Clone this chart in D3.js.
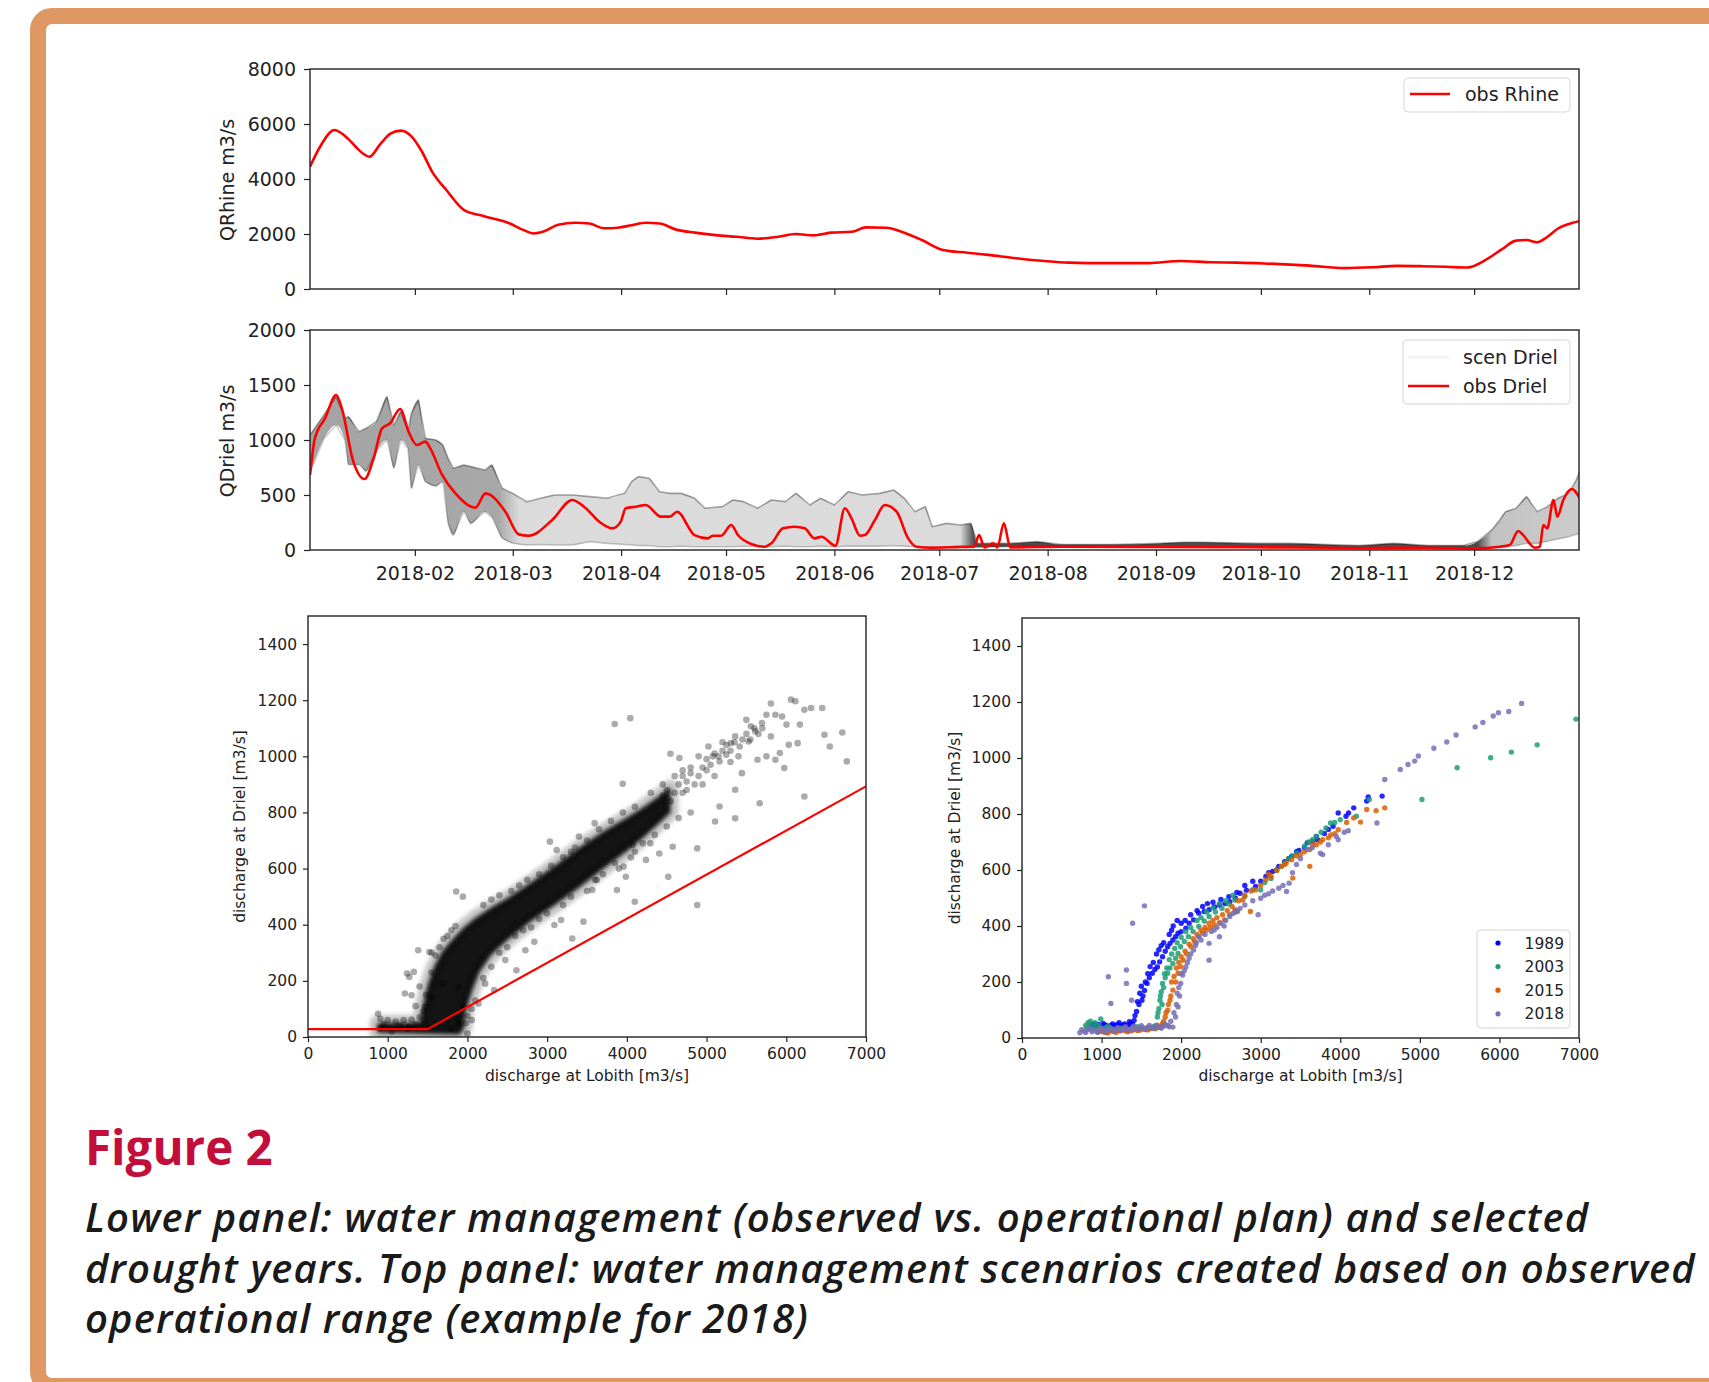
<!DOCTYPE html>
<html>
<head>
<meta charset="utf-8">
<script src="https://cdnjs.cloudflare.com/ajax/libs/d3/7.8.5/d3.min.js"></script>
<style>
  body { margin: 0; background: #fff; }
  svg text { font-family: "DejaVu Sans", sans-serif; fill: #222; }
  svg text.caption { font-family: "Open Sans", sans-serif; }
</style>
</head>
<body>
<div id="chart"></div>
<script>
// ---- data ----
// day numbers count from 2 Jan 2018 (first plotted day); discharge in m3/s

// obs Rhine (top panel)
var rhineDay = [0,3,7,11,14,17,20,23,26,29,32,35,39,44,50,57,61,64,67,71,76,80,84,88,92,96,100,105,110,116,122,128,134,139,144,149,155,159,165,169,175,181,188,194,202,210,217,228,240,249,258,265,273,286,296,304,311,318,325,331,337,341,345,348,351,354,357,361,364];
var rhineQ = [4450,5200,5780,5450,5050,4810,5250,5650,5760,5550,5000,4250,3600,2880,2640,2390,2150,2020,2100,2340,2410,2380,2210,2230,2320,2410,2380,2150,2050,1960,1900,1830,1900,2000,1950,2050,2080,2240,2230,2090,1780,1420,1320,1240,1120,1020,960,940,940,1020,970,960,930,850,760,790,840,830,810,780,1110,1450,1760,1780,1700,1900,2200,2400,2490];

// obs Driel (second panel)
var drielDay = [0,1.4,4.3,7.5,9.1,12.4,15.6,18.2,20.6,22.9,25.8,28.2,30.6,33,34.4,37.8,41.6,47.3,50.2,55.9,59.7,62.6,69.3,75,78.9,82.7,86.5,88.9,90.3,93.2,96,100.4,103,105,110,113.8,115.2,117.6,120.5,122.4,126.2,130,132,135.3,138.6,141.5,144.3,146.3,150.3,153,154.9,157.3,158.7,161.6,164.4,167.8,171.1,173.5,177.8,186,190,191.4,192.9,195.5,196.6,198.5,200.3,215,240,270,300,320,333.6,340.3,343.2,345.6,347,350.4,351.8,352.8,353.9,355.7,356.8,358.5,360.9,363.7];
var drielQ = [682,1015,1197,1409,1288,803,645,833,1106,1152,1282,1076,955,985,924,682,515,385,515,348,142,130,273,455,379,258,197,258,379,394,409,303,303,348,136,106,130,130,227,136,55,30,61,197,212,197,106,121,39,379,288,130,136,273,409,348,106,30,21,28,30,136,24,61,24,242,24,30,28,25,18,20,15,30,45,173,136,21,30,227,197,455,303,455,555,439];

// scenario ensemble range at Driel (upper / lower envelope)
var scenDay = [0,4,7.5,10,11,14,16,19,22,24,26,28,29,31,33,36,38,39.5,41,44,46,50,52,55,58,62,66,70,75,80,85,90,92,94,97,100,103,106,110,113,118,121,124,128,132,136,139,143,146,150,154,158,163,167,170,173,176,178,182,186,189,191,200,208,215,230,243,250,255,270,280,300,310,320,330,334,338,340,342,345,348,351,354,357,360,362,364];
var scenHigh = [1045,1227,1394,1197,1212,1076,1106,1167,1394,1136,1258,1076,1242,1364,1015,1000,955,833,742,773,758,727,773,561,515,439,470,500,500,485,470,515,621,667,652,530,515,515,470,379,394,455,440,379,455,440,515,409,470,409,530,500,515,545,470,348,394,212,242,227,242,60,60,76,50,50,60,70,70,60,60,40,60,40,40,76,180,258,348,379,485,348,394,470,515,621,773];
var scenLow = [700,1015,1136,1000,776,776,715,900,1000,745,1000,924,561,776,621,580,621,239,136,348,239,348,300,106,61,45,50,45,45,76,60,50,45,40,40,30,30,35,30,30,30,30,35,30,30,35,30,30,35,30,35,35,35,40,35,30,30,28,30,30,30,25,30,35,30,30,30,30,30,25,25,20,20,20,20,20,25,25,30,40,60,60,80,100,120,140,150];

var monthTicks = ["2018-02-01","2018-03-01","2018-04-01","2018-05-01","2018-06-01","2018-07-01","2018-08-01","2018-09-01","2018-10-01","2018-11-01","2018-12-01"];
var rhineTicks = [0,2000,4000,6000,8000];
var drielTicks = [0,500,1000,1500,2000];

// lower left: Lobith vs Driel, dense cloud outline + sparse points
var cloudUpper = [[870,50],[1400,52],[1440,110],[1500,185],[1580,250],[1680,305],[1800,345],[1950,390],[2100,425],[2300,462],[2500,495],[2800,552],[3100,612],[3400,675],[3700,732],[4000,782],[4200,818],[4400,858],[4550,890]];
var cloudLower = [[870,15],[1900,8],[1960,30],[1980,90],[2060,165],[2150,230],[2300,292],[2500,345],[2800,412],[3100,470],[3400,532],[3700,598],[4000,662],[4200,708],[4400,760],[4550,800]];
var sparsePts = [[3847,1115],[4043,1136],[3948,902],[4547,1009],[4659,994],[5023,1035],[5079,1000],[5163,982],[5247,1006],[5303,1047],[5359,1071],[5415,1035],[5499,1130],[5555,1107],[5611,1089],[5695,1119],[5751,1148],[5807,1188],[5863,1148],[5947,1142],[6003,1113],[6059,1202],[6115,1196],[6171,1113],[6227,1166],[6311,1172],[6451,1172],[6479,1077],[6546,1035],[6703,1085],[6759,982],[6143,1047],[6031,1041],[5919,1012],[5863,988],[5751,1000],[5639,988],[5975,958],[5807,1071],[5527,1053],[5443,940],[5359,881],[5163,821],[5107,768],[5359,779],[5667,833],[6227,857],[4883,672],[4883,470],[4519,571],[4575,678],[4407,654],[4239,631],[4295,690],[4071,684],[3959,607],[3987,571],[3875,524],[4099,482],[3595,762],[3399,714],[3035,696],[3119,666],[3623,559],[3567,524],[3455,411],[3315,351],[3175,417],[3091,399],[2839,339],[2727,309],[2615,238],[2475,274],[2335,167],[2223,190],[2139,119],[2055,60],[1859,518],[1943,500],[1887,178],[1691,190],[1551,143],[1467,107],[1383,309],[1523,303],[1243,226],[1327,232],[1271,214],[1215,155],[1299,149],[879,83],[907,65],[1271,36],[2000,12],[1887,48],[4700,930],[4800,960],[4900,1000],[5000,950],[5200,1050],[4750,880],[4950,900],[5100,930],[5300,980],
  [2200,470],[2400,505],[2650,540],[2900,580],[3200,640],[3300,660],[3500,700],[3650,740],[3800,770],[3950,800],[4100,820],[4300,870],[4450,900],[4600,930],[4700,950],[2300,490],[2550,520],[2750,560],[3050,610],[3350,675],
  [2400,300],[2600,360],[2700,380],[2900,420],[3000,440],[3200,470],[3300,500],[3500,520],[3700,580],[3850,620],[4050,640],[4200,690],[4350,720],[4500,750],[4650,780],[4800,800],[2200,210],[2300,250],[2100,130],[2050,100],[2500,320],[2800,390],[3600,560],[3900,600],[4100,660],
  [4450,860],[4500,880],[4550,840],[4600,870],[4650,900],[4700,870],[4750,910],[4800,940],[4850,900],[4900,930],[4950,960],[5000,990],[5050,970],[5100,1010],[5150,1000],[5200,1020],[5250,1040],[5300,1020],[5350,1050],[5400,1000],[5450,1060],[5500,1080],[5550,1060],[5600,1100],[5650,1080],[5700,1100],
  [900,30],[950,45],[1000,60],[1050,20],[1100,55],[1150,40],[1200,60],[1250,30],[1300,62],[1350,45],[1400,70],[1450,90],[1480,150],[1400,180],[1350,110],[1550,230],[1600,290],[1650,320],[1700,350],[1750,360],[1550,300],[1800,380],[1850,395],[1750,60],[1800,30],[1850,70],[1980,50],[2000,75],[1950,110]];
var opPlanX = [0,1500,7000];
var opPlanY = [28,28,893];

// lower right: selected drought years
var years = ["1989","2003","2015","2018"];
var yearColors = ["#0000ff","#1b9e77","#d95f02","#7570b3"];
var pts1989 = [[880,45],[920,38],[960,48],[1000,42],[1040,47],[1080,40],[1120,46],[1160,44],[1200,48],[1250,42],[1290,50],[1330,45],[1370,52],[1409,63],[1440,95],[1470,120],[1507,135],[1540,170],[1572,195],[1600,215],[1637,231],[1670,245],[1701,254],[1730,272],[1766,290],[1800,310],[1831,326],[1860,338],[1896,350],[1930,362],[1961,374],[2000,380],[2059,392],[2100,410],[2156,422],[2221,446],[2290,452],[2351,458],[2420,468],[2481,475],[2550,480],[2611,487],[2680,500],[2740,517],[2820,528],[2935,541],[3000,560],[3065,577],[3150,595],[3227,613],[3300,630],[3390,649],[3480,670],[3585,697],[3650,702],[3714,708],[3800,730],[3909,756],[3974,804],[4072,792],[4104,804],[4169,822],[4332,846],[4351,861],[4526,864],
  [850,40],[900,50],[940,44],[980,36],[1020,52],[1060,45],[1100,38],[1140,50],[1180,42],[1220,55],[1270,47],[1310,40],[1350,58],[1390,48],[1420,80],[1450,130],[1480,160],[1500,185],[1520,150],[1550,200],[1580,230],[1610,255],[1650,270],[1690,300],[1720,315],[1750,330],[1780,340],[1850,370],[1880,385],[1900,400],[1950,420],[2000,410],[2050,420],[2120,440],[2200,455],[2270,470],[2330,480],[2400,485],[2500,495],[2600,505],[2700,520],[2800,545],[2900,560],[3100,590],[3200,600],[3350,640],[3450,665],[3550,680],[3700,720],[3850,745]];
var pts2003 = [[800,45],[830,55],[860,60],[900,40],[950,35],[990,68],[1050,38],[1120,35],[1200,32],[1300,33],[1400,34],[1500,36],[1600,38],[1680,45],[1701,75],[1720,105],[1734,135],[1750,165],[1766,195],[1800,215],[1831,231],[1860,250],[1896,266],[1930,285],[1961,302],[1994,326],[2040,345],[2091,362],[2150,380],[2221,398],[2290,418],[2351,434],[2430,450],[2513,463],[2600,478],[2676,493],[2800,505],[3000,529],[3130,570],[3260,613],[3350,640],[3455,661],[3550,685],[3650,708],[3760,735],[3877,768],[4000,780],[4201,792],[4364,852],[5026,852],[5468,965],[5890,1001],[6150,1021],[6474,1047],[6962,1139],
  [820,35],[850,50],[880,30],[920,55],[970,45],[1020,30],[1080,42],[1150,30],[1250,35],[1350,30],[1450,40],[1550,35],[1650,40],[1710,90],[1740,150],[1760,120],[1780,180],[1790,230],[1820,250],[1850,280],[1880,300],[1920,320],[1950,340],[2000,360],[2060,380],[2120,395],[2200,420],[2250,430],[2320,450],[2400,465],[2480,480],[2560,490],[2650,510],[2900,530],[3050,555],[3200,600],[3300,625],[3400,650],[3600,700],[3700,720],[3820,750],[3930,770]];
var pts2015 = [[950,22],[1000,25],[1050,20],[1100,28],[1150,24],[1200,27],[1250,30],[1300,25],[1350,28],[1400,30],[1450,27],[1500,32],[1550,30],[1600,33],[1650,35],[1700,38],[1740,42],[1766,51],[1800,75],[1831,99],[1860,135],[1896,171],[1930,200],[1961,231],[1994,255],[2026,278],[2070,300],[2124,326],[2170,345],[2221,362],[2270,375],[2318,386],[2370,395],[2416,404],[2480,412],[2546,422],[2610,440],[2676,458],[2708,452],[2773,493],[2870,452],[2935,529],[3000,545],[3065,565],[3130,577],[3200,598],[3260,613],[3320,625],[3390,637],[3403,571],[3500,655],[3617,673],[3617,613],[3700,690],[3779,708],[3880,725],[3974,744],[4080,770],[4169,786],[4254,771],[4332,816],[4450,812],[4559,822],
  [980,30],[1020,22],[1080,18],[1130,25],[1180,20],[1230,25],[1280,32],[1330,22],[1380,26],[1430,33],[1480,28],[1530,34],[1580,29],[1630,36],[1680,33],[1720,40],[1780,60],[1810,90],[1840,120],[1870,150],[1880,200],[1910,220],[1940,250],[1970,270],[2000,290],[2050,310],[2100,335],[2150,355],[2200,370],[2250,385],[2300,395],[2350,410],[2400,420],[2450,430],[2520,440],[2580,455],[2640,470],[2720,490],[2800,510],[2880,525],[3100,585],[3300,620],[3450,650],[3550,665],[3650,690],[3750,700],[3850,715],[3930,730]];
var pts2018 = [[727,19],[780,25],[830,30],[880,22],[930,28],[980,24],[1030,30],[1080,26],[1130,32],[1180,28],[1230,30],[1280,34],[1330,30],[1380,35],[1430,32],[1480,36],[1530,33],[1580,38],[1630,35],[1680,40],[1730,38],[1780,42],[1830,45],[1117,123],[1085,219],[1312,195],[1312,243],[1390,410],[1539,472],[1377,135],[1896,39],[1930,75],[1961,111],[1980,150],[1994,195],[2020,225],[2059,254],[2100,285],[2156,314],[2190,340],[2221,362],[2351,338],[2351,278],[2416,386],[2481,362],[2540,400],[2611,434],[2680,450],[2740,463],[2968,440],[3000,499],[3100,515],[3227,535],[3325,523],[3357,553],[3450,620],[3585,673],[3779,655],[3974,708],[4100,740],[4461,768],[4559,923],[4754,959],[4851,977],[4935,989],[4981,1007],[5176,1035],[5338,1057],[5455,1082],[5695,1111],[5792,1127],[5922,1150],[5987,1162],[6117,1166],[6279,1195],
  [750,30],[800,20],[850,35],[900,28],[950,20],[1000,34],[1050,22],[1100,36],[1150,25],[1200,38],[1250,27],[1300,40],[1350,28],[1400,42],[1450,30],[1500,44],[1550,32],[1600,45],[1650,34],[1700,46],[1750,35],[1800,48],[1850,40],[1870,60],[1910,90],[1940,120],[1950,160],[1970,180],[2000,230],[2040,240],[2080,270],[2120,300],[2180,330],[2250,350],[2300,370],[2380,380],[2450,395],[2500,410],[2560,420],[2650,445],[2700,455],[2800,475],[2900,490],[3050,510],[3150,525],[3280,545],[3400,590],[3500,640],[3650,680],[3750,660],[3850,690],[3950,720],[4050,735]];
var scatterXTicks = [0,1000,2000,3000,4000,5000,6000,7000];
var scatterYTicks = [0,200,400,600,800,1000,1200,1400];

var captionTitle = "Figure 2";
var captionLines = [
  "Lower panel: water management (observed vs. operational plan) and selected",
  "drought years. Top panel: water management scenarios created based on observed",
  "operational range (example for 2018)"
];

// ---- drawing ----
var W = 1709, H = 1382;
var svg = d3.select("#chart").append("svg")
  .attr("width", W).attr("height", H);

var defs = svg.append("defs");

// orange frame
svg.append("rect")
  .attr("x", 38).attr("y", 16)
  .attr("width", 1800).attr("height", 1370)
  .attr("rx", 14)
  .attr("fill", "none")
  .attr("stroke", "#df9764")
  .attr("stroke-width", 16);

var t0 = Date.UTC(2018, 0, 2);
function dayDate(d) { return new Date(t0 + d * 864e5); }

var x = d3.scaleUtc()
  .domain([dayDate(0), dayDate(363)])
  .range([310, 1579]);
var monthDates = monthTicks.map(function(s) { return d3.utcParse("%Y-%m-%d")(s); });

function styleAxis(g, size) {
  g.select(".domain").remove();
  g.selectAll(".tick line").attr("stroke", "#222").attr("stroke-width", 1.2);
  g.selectAll(".tick text").attr("fill", "#222").style("font-size", size + "px");
}

function frame(x0, y0, w, h) {
  svg.append("rect")
    .attr("x", x0).attr("y", y0).attr("width", w).attr("height", h)
    .attr("fill", "none").attr("stroke", "#222").attr("stroke-width", 1.4);
}

function clip(id, x0, y0, w, h) {
  defs.append("clipPath").attr("id", id)
    .append("rect").attr("x", x0).attr("y", y0).attr("width", w).attr("height", h);
}

// --- panel 1: obs Rhine ---
var y1 = d3.scaleLinear().domain([0, 8000]).range([289, 69]);
clip("c1", 310, 69, 1269, 220);

svg.append("g").attr("clip-path", "url(#c1)")
  .append("path")
  .datum(rhineDay)
  .attr("fill", "none")
  .attr("stroke", "#ff0000")
  .attr("stroke-width", 2.6)
  .attr("d", d3.line()
    .x(function(d) { return x(dayDate(d)); })
    .y(function(d, i) { return y1(rhineQ[i]); })
    .curve(d3.curveMonotoneX));

svg.append("g").attr("transform", "translate(0,289)")
  .call(d3.axisBottom(x).tickValues(monthDates).tickSize(6).tickFormat(""))
  .call(styleAxis, 19);
svg.append("g").attr("transform", "translate(310,0)")
  .call(d3.axisLeft(y1).tickValues(rhineTicks).tickSize(6).tickPadding(8).tickFormat(d3.format("d")))
  .call(styleAxis, 19);
frame(310, 69, 1269, 220);

svg.append("text")
  .attr("transform", "translate(234,180) rotate(-90)")
  .attr("text-anchor", "middle")
  .style("font-size", "19px")
  .text("QRhine m3/s");

// legend
var lg1 = svg.append("g");
lg1.append("rect").attr("x", 1404).attr("y", 78).attr("width", 166).attr("height", 34)
  .attr("rx", 4).attr("fill", "#fff").attr("stroke", "#d6d6d6");
lg1.append("line").attr("x1", 1410).attr("x2", 1450).attr("y1", 94).attr("y2", 94)
  .attr("stroke", "#ff0000").attr("stroke-width", 2.6);
lg1.append("text").attr("x", 1465).attr("y", 101).style("font-size", "19px").text("obs Rhine");

// --- panel 2: Driel scenarios + obs ---
var y2 = d3.scaleLinear().domain([0, 2000]).range([550, 330]);
clip("c2", 310, 330, 1269, 220);

// shading stronger where the ensemble is narrow
var grad = defs.append("linearGradient").attr("id", "scenGrad")
  .attr("gradientUnits", "userSpaceOnUse")
  .attr("x1", 310).attr("x2", 1579).attr("y1", 0).attr("y2", 0);
[[0, 0.36], [54, 0.34], [60, 0.14], [186, 0.14], [190, 0.7], [334, 0.7], [338, 0.24], [364, 0.2]]
  .forEach(function(s) {
    grad.append("stop")
      .attr("offset", (x(dayDate(s[0])) - 310) / 1269)
      .attr("stop-color", "#000")
      .attr("stop-opacity", s[1]);
  });

var g2 = svg.append("g").attr("clip-path", "url(#c2)");
g2.append("path")
  .datum(scenDay)
  .attr("fill", "url(#scenGrad)")
  .attr("d", d3.area()
    .x(function(d) { return x(dayDate(d)); })
    .y0(function(d, i) { return y2(scenLow[i]); })
    .y1(function(d, i) { return y2(scenHigh[i]); })
    .curve(d3.curveMonotoneX));

[scenHigh, scenLow].forEach(function(arr, k) {
  g2.append("path")
    .datum(scenDay)
    .attr("fill", "none")
    .attr("stroke", "#000")
    .attr("stroke-opacity", k == 0 ? 0.35 : 0.2)
    .attr("stroke-width", 1.6)
    .attr("stroke-linejoin", "round")
    .attr("d", d3.line()
      .x(function(d) { return x(dayDate(d)); })
      .y(function(d, i) { return y2(arr[i]); }));
});

g2.append("path")
  .datum(drielDay)
  .attr("fill", "none")
  .attr("stroke", "#ff0000")
  .attr("stroke-width", 2.6)
  .attr("stroke-linejoin", "round")
  .attr("d", d3.line()
    .x(function(d) { return x(dayDate(d)); })
    .y(function(d, i) { return y2(drielQ[i]); })
    .curve(d3.curveMonotoneX));

svg.append("g").attr("transform", "translate(0,550)")
  .call(d3.axisBottom(x).tickValues(monthDates).tickSize(6).tickPadding(11).tickFormat(d3.utcFormat("%Y-%m")))
  .call(styleAxis, 19);
svg.append("g").attr("transform", "translate(310,0)")
  .call(d3.axisLeft(y2).tickValues(drielTicks).tickSize(6).tickPadding(8).tickFormat(d3.format("d")))
  .call(styleAxis, 19);
frame(310, 330, 1269, 220);

svg.append("text")
  .attr("transform", "translate(234,441) rotate(-90)")
  .attr("text-anchor", "middle")
  .style("font-size", "19px")
  .text("QDriel m3/s");

var lg2 = svg.append("g");
lg2.append("rect").attr("x", 1403).attr("y", 340).attr("width", 167).attr("height", 64)
  .attr("rx", 4).attr("fill", "#fff").attr("stroke", "#d6d6d6");
lg2.append("line").attr("x1", 1408).attr("x2", 1449).attr("y1", 357).attr("y2", 357)
  .attr("stroke", "#000").attr("stroke-opacity", 0.06).attr("stroke-width", 2.6);
lg2.append("text").attr("x", 1463).attr("y", 364).style("font-size", "19px").text("scen Driel");
lg2.append("line").attr("x1", 1408).attr("x2", 1449).attr("y1", 386).attr("y2", 386)
  .attr("stroke", "#ff0000").attr("stroke-width", 2.6);
lg2.append("text").attr("x", 1463).attr("y", 393).style("font-size", "19px").text("obs Driel");

// --- scatter helpers ---
function scatterAxes(xs, ys, left, top, w, h, ylabX) {
  svg.append("g").attr("transform", "translate(0," + (top + h) + ")")
    .call(d3.axisBottom(xs).tickValues(scatterXTicks).tickSize(5).tickPadding(6).tickFormat(d3.format("d")))
    .call(styleAxis, 15.5);
  svg.append("g").attr("transform", "translate(" + left + ",0)")
    .call(d3.axisLeft(ys).tickValues(scatterYTicks).tickSize(5).tickPadding(6).tickFormat(d3.format("d")))
    .call(styleAxis, 15.5);
  frame(left, top, w, h);
  svg.append("text")
    .attr("x", left + w / 2).attr("y", 1081)
    .attr("text-anchor", "middle")
    .style("font-size", "15.5px")
    .text("discharge at Lobith [m3/s]");
  svg.append("text")
    .attr("transform", "translate(" + ylabX + "," + (top + h / 2) + ") rotate(-90)")
    .attr("text-anchor", "middle")
    .style("font-size", "15.5px")
    .text("discharge at Driel [m3/s]");
}

// --- panel 3: all data vs operational plan ---
var xs3 = d3.scaleLinear().domain([0, 7000]).range([308, 866]);
var ys3 = d3.scaleLinear().domain([0, 1500]).range([1037, 616]);
clip("c3", 308, 616, 558, 421);

defs.append("filter").attr("id", "soft")
  .attr("x", "-10%").attr("y", "-10%").attr("width", "120%").attr("height", "120%")
  .append("feGaussianBlur").attr("stdDeviation", 2);

var g3 = svg.append("g").attr("clip-path", "url(#c3)");
var cloud = cloudUpper.concat(cloudLower.slice().reverse());
var cloudLine = d3.line()
  .x(function(d) { return xs3(d[0]); })
  .y(function(d) { return ys3(d[1]); })
  .curve(d3.curveLinearClosed);
g3.append("path")
  .datum(cloud)
  .attr("fill", "none")
  .attr("stroke", "#000")
  .attr("stroke-opacity", 0.22)
  .attr("stroke-width", 16)
  .attr("stroke-linejoin", "round")
  .attr("filter", "url(#soft)")
  .attr("d", cloudLine);
g3.append("path")
  .datum(cloud)
  .attr("fill", "#000")
  .attr("fill-opacity", 0.92)
  .attr("filter", "url(#soft)")
  .attr("d", cloudLine);

g3.selectAll("circle.sp")
  .data(sparsePts)
  .enter()
  .append("circle")
  .attr("class", "sp")
  .attr("cx", function(d) { return xs3(d[0]); })
  .attr("cy", function(d) { return ys3(d[1]); })
  .attr("r", 3.3)
  .attr("fill", "#000")
  .attr("fill-opacity", 0.33);

g3.append("path")
  .datum(opPlanX)
  .attr("fill", "none")
  .attr("stroke", "#ff0000")
  .attr("stroke-width", 2.2)
  .attr("d", d3.line()
    .x(function(d) { return xs3(d); })
    .y(function(d, i) { return ys3(opPlanY[i]); }));

scatterAxes(xs3, ys3, 308, 616, 558, 421, 245);

// --- panel 4: drought years ---
var xs4 = d3.scaleLinear().domain([0, 7000]).range([1022, 1579]);
var ys4 = d3.scaleLinear().domain([0, 1500]).range([1038, 618]);
clip("c4", 1022, 618, 557, 420);

var g4 = svg.append("g").attr("clip-path", "url(#c4)");
[pts1989, pts2003, pts2015, pts2018].forEach(function(pts, k) {
  g4.selectAll("circle.y" + years[k])
    .data(pts)
    .enter()
    .append("circle")
    .attr("class", "y" + years[k])
    .attr("cx", function(d) { return xs4(d[0]); })
    .attr("cy", function(d) { return ys4(d[1]); })
    .attr("r", 2.7)
    .attr("fill", yearColors[k])
    .attr("fill-opacity", 0.85);
});

scatterAxes(xs4, ys4, 1022, 618, 557, 420, 960);

var lg4 = svg.append("g");
lg4.append("rect").attr("x", 1477).attr("y", 930).attr("width", 93).attr("height", 98)
  .attr("rx", 4).attr("fill", "#fff").attr("stroke", "#d6d6d6");
years.forEach(function(yr, k) {
  var yy = 943 + k * 23.6;
  lg4.append("circle").attr("cx", 1498).attr("cy", yy).attr("r", 2.6).attr("fill", yearColors[k]);
  lg4.append("text").attr("x", 1564).attr("y", yy + 5.5)
    .attr("text-anchor", "end").style("font-size", "15.5px").text(yr);
});

// --- caption ---
svg.append("text")
  .attr("class", "caption")
  .attr("x", 85).attr("y", 1165)
  .style("font-size", "47.5px")
  .style("font-weight", 700)
  .style("fill", "#c20e3a")
  .text(captionTitle);

svg.selectAll("text.capline")
  .data(captionLines)
  .enter()
  .append("text")
  .attr("class", "caption capline")
  .attr("x", 85)
  .attr("y", function(d, i) { return 1232 + i * 50.5; })
  .style("font-size", "40px")
  .style("letter-spacing", "1.15px")
  .style("font-style", "italic")
  .style("font-weight", 600)
  .style("fill", "#1a1a1a")
  .text(function(d) { return d; });
</script>
</body>
</html>
